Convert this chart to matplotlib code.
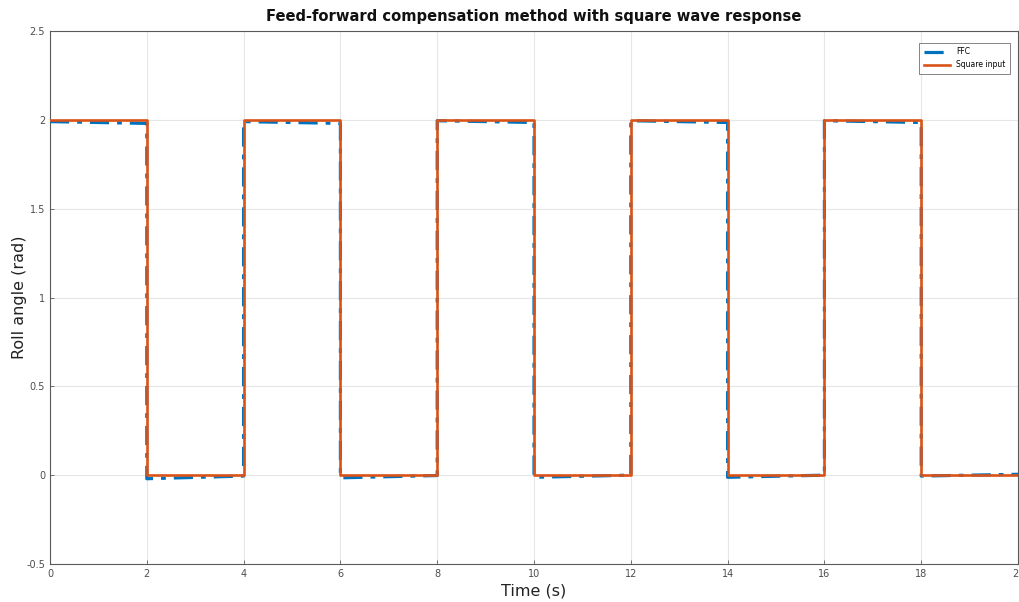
import matplotlib
matplotlib.use("Agg")
import matplotlib.pyplot as plt
import numpy as np

# Switching instants of the square wave (s)
switch_times = [0, 2, 4, 6, 8, 10, 12, 14, 16, 18, 20]
# Commanded roll angle on each half period (rad)
square_levels = [2, 0, 2, 0, 2, 0, 2, 0, 2, 0]
# Feed-forward compensated response: value at start and end of each half period (rad)
ffc_start = [1.99, -0.02, 1.99, -0.015, 1.995, -0.012, 1.995, -0.012, 1.995, -0.005]
ffc_end = [1.98, -0.005, 1.98, -0.002, 1.985, 0.0, 1.985, 0.0, 1.985, 0.005]

blue = "#0072BD"
orange = "#D95319"

# Build step-shaped polylines
sq_t, sq_y = [], []
ff_t, ff_y = [], []
for i, lvl in enumerate(square_levels):
    t0, t1 = switch_times[i], switch_times[i + 1]
    sq_t += [t0, t1]
    sq_y += [lvl, lvl]
    ff_t += [t0, t1]
    ff_y += [ffc_start[i], ffc_end[i]]

fig = plt.figure(figsize=(10.2, 6.02), dpi=100)
ax = fig.add_axes([50 / 1020, 1 - 564 / 602, 968 / 1020, (564 - 31) / 602])

ax.plot(ff_t, ff_y, color=blue, lw=2.3, linestyle=(0, (6, 2.5, 1.5, 2.5)), label="FFC", zorder=3)
ax.plot(sq_t, sq_y, color=orange, lw=1.9, label="Square input", zorder=4)

ax.set_xlim(0, 20)
ax.set_ylim(-0.5, 2.5)
ax.set_xticks(np.arange(0, 21, 2))
ax.set_yticks([-0.5, 0, 0.5, 1, 1.5, 2, 2.5])
ax.set_yticklabels(["-0.5", "0", "0.5", "1", "1.5", "2", "2.5"])
ax.grid(True, color="#e6e6e6", lw=0.8)
ax.set_axisbelow(True)
for s in ax.spines.values():
    s.set_color("#5a5a5a")
    s.set_linewidth(0.8)
ax.tick_params(direction="in", length=3, width=0.6, colors="#5a5a5a", labelsize=7,
               labelcolor="#4d4d4d", top=False, right=False)

ax.set_xlabel("Time (s)", fontsize=11.5, color="#222222", labelpad=3)
ax.set_ylabel("Roll angle (rad)", fontsize=11.5, color="#222222")
ax.yaxis.set_label_coords(-0.024, 0.5)
ax.set_title("Feed-forward compensation method with square wave response",
             fontsize=10.6, fontweight="bold", color="#111111", pad=7)

leg = ax.legend(loc="upper right", fontsize=5.5, frameon=True, fancybox=False,
                edgecolor="#4d4d4d", handlelength=3.5, borderpad=0.6,
                bbox_to_anchor=(0.996, 0.985))
leg.get_frame().set_linewidth(0.6)

fig.savefig("out.png", dpi=100, facecolor="white")
